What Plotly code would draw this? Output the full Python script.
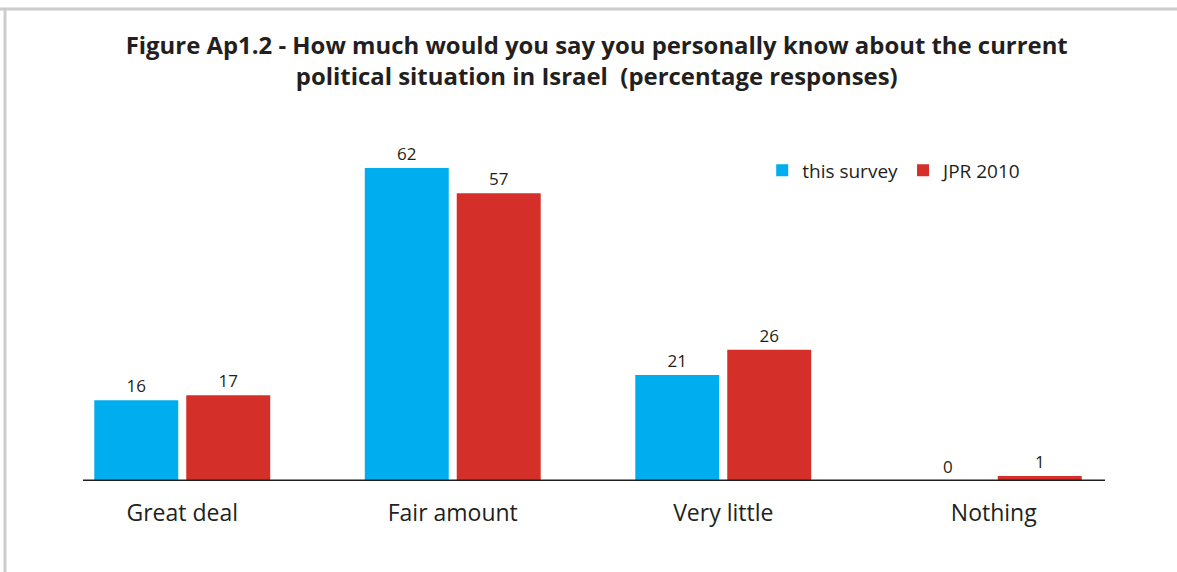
import plotly.graph_objects as go

categories = ["Great deal", "Fair amount", "Very little", "Nothing"]
this_survey = [16, 62, 21, 0]
jpr_2010 = [17, 57, 26, 1]

blue = "#00AEEF"
red = "#D52F29"
ink = "#231F20"
font_family = "Open Sans"

fig = go.Figure()
fig.add_trace(go.Bar(
    x=categories, y=this_survey, name="this survey",
    marker=dict(color=blue, line=dict(width=0)),
    text=this_survey, textposition="outside", cliponaxis=False,
    textfont=dict(size=17, color=ink),
))
fig.add_trace(go.Bar(
    x=categories, y=jpr_2010, name="JPR 2010",
    marker=dict(color=red, line=dict(width=0)),
    text=jpr_2010, textposition="outside", cliponaxis=False,
    textfont=dict(size=17, color=ink),
))

# frame pieces (top and left only) plus the dark baseline
fig.add_shape(type="line", xref="paper", yref="paper",
              x0=-0.05, x1=1.1, y0=1.3075, y1=1.3075,
              line=dict(color="#CCCCCC", width=3))
fig.add_shape(type="line", xref="paper", yref="paper",
              x0=-0.0388, x1=-0.0388, y0=1.3075, y1=-0.26,
              line=dict(color="#CCCCCC", width=3))
fig.add_shape(type="line", xref="paper", yref="y",
              x0=0.0333, x1=0.9778, y0=0, y1=0,
              line=dict(color=ink, width=3), layer="above")

fig.update_layout(
    width=1177, height=572,
    margin=dict(l=47, r=48, t=120, b=91),
    paper_bgcolor="white", plot_bgcolor="white",
    font=dict(family=font_family, color=ink),
    title=dict(
        text="<b>Figure Ap1.2 - How much would you say you personally know about the current<br>"
             "political situation in Israel  (percentage responses)</b>",
        x=0.507, xref="container", xanchor="center",
        y=0.906, yref="container", yanchor="top",
        font=dict(family=font_family, size=23.9, color=ink),
    ),
    barmode="group", bargap=0.32, bargroupgap=0.087,
    showlegend=True,
    legend=dict(
        orientation="h", x=0.661, y=0.913, xanchor="left", yanchor="top",
        font=dict(size=19, color=ink), bgcolor="rgba(0,0,0,0)",
        traceorder="normal",
    ),
    xaxis=dict(
        showline=False, showgrid=False, ticks="outside", ticklen=11,
        tickcolor="rgba(0,0,0,0)", tickfont=dict(size=23, color=ink),
    ),
    yaxis=dict(range=[0, 71.5], visible=False, showgrid=False),
)

fig.write_html("out.html", config={"displayModeBar": False},
               post_script="document.body.style.margin = '0';")
